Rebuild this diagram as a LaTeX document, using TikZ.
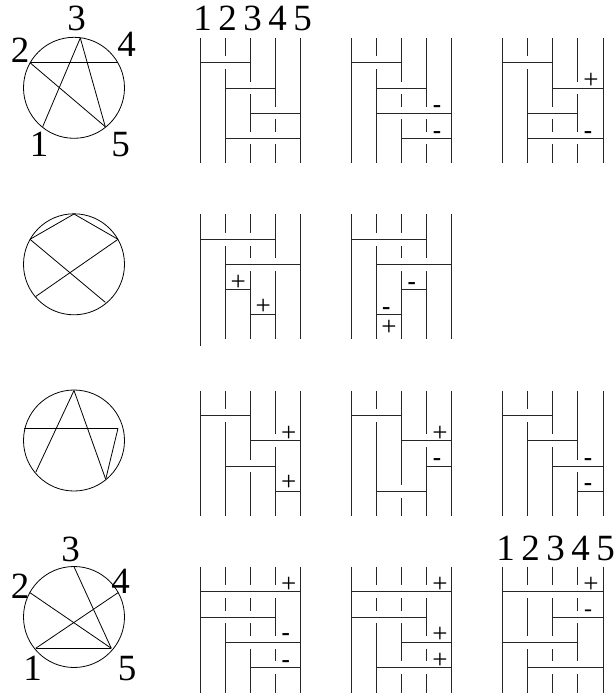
\documentclass[tikz,border=0pt]{standalone}
\usepackage{fontspec}
\setmainfont{Liberation Serif}

% five wires with their rungs: left x, top y, bottom y, list of wire/wire/y
\newcommand{\ladder}[4]{
    \foreach \w in {0,...,4}
        \draw[wire] (#1+\w*25.2,#2) -- (#1+\w*25.2,#3);
    \foreach \a/\b/\r in {#4}
        \draw[rung] (#1+\a*25.2-25.2,\r) -- (#1+\b*25.2-25.2,\r);
}

\begin{document}
\begin{tikzpicture}[
    x=1pt, y=-1pt,
    wire/.style={line width=0.9pt, draw=black!85},
    rung/.style={line width=0.9pt, draw=black!85, preaction={draw=white, line width=12.5pt, shorten <=2pt, shorten >=2pt}},
    chord/.style={line width=0.8pt},
    number/.style={font=\fontsize{37}{37}\selectfont, inner sep=0pt, anchor=base},
    plusmark/.style={font=\fontsize{27}{27}\selectfont, inner sep=0pt, anchor=base, yshift=-6.5pt},
    minusmark/.style={font=\bfseries\fontsize{25}{25}\selectfont, inner sep=0pt, anchor=base, yshift=-5.5pt},
    thinminus/.style={font=\fontsize{24}{24}\selectfont, inner sep=0pt, anchor=base, yshift=-5.3pt}
]
    \useasboundingbox (0,0) rectangle (614,695);

    % First row
    \draw[chord] (74,87.8) circle (50.5);
    \draw[chord] (80.3,38) -- (42.7,126.7);
    \draw[chord] (80.3,38) -- (105.3,126.7);
    \draw[chord] (30,62.7) -- (118.3,62.7);
    \draw[chord] (30,62.7) -- (105.3,126.7);
    \node[number] (topa) at (76.7,31) {3};
    \node[number] (topb) at (20,63) {2};
    \node[number] (topc) at (126.7,57) {4};
    \node[number] (topd) at (39,157) {1};
    \node[number] (tope) at (120.7,157) {5};
    \foreach \d in {1,...,5}
        \node[number] (heada\d) at (177.7+\d*25,31) {\d};

    \ladder{200}{38}{163.3}{1/3/62.7,2/4/88,3/5/113,2/5/138}
    \ladder{351}{38}{163.3}{1/3/62.7,2/4/88,2/5/113,3/5/138}
    \ladder{502.3}{38}{163.3}{1/3/62.7,3/5/88,2/4/113,2/5/138}
    \node[minusmark] (ma) at (437,106.7) {-};
    \node[minusmark] (mb) at (437,133) {-};
    \node[plusmark] (pa) at (591,81.7) {+};
    \node[minusmark] (mc) at (588,133) {-};

    % Second row
    \draw[chord] (74,264.3) circle (50.5);
    \draw[chord] (74,214) -- (30,239.3);
    \draw[chord] (74,214) -- (118,239.3);
    \draw[chord] (30,239.3) -- (105.3,302.3);
    \draw[chord] (118,239.3) -- (35.7,296.5);

    \ladder{200}{214}{339.3}{1/4/239.3,2/5/264.3,2/3/289.7,3/4/314.7}
    \draw[wire] (200,339.3) -- (200,346);
    \ladder{351}{214}{339.3}{1/4/239.3,2/5/264.3,3/4/289.7,2/3/314.7}
    \node[plusmark] (pb) at (238.3,284) {+};
    \node[plusmark] (pc) at (263.3,308.3) {+};
    \node[minusmark] (md) at (411.7,284.3) {-};
    \node[minusmark] (me) at (386.3,308.5) {-};
    \node[plusmark] (pd) at (389,328.5) {+};

    % Third row
    \draw[chord] (74,440.5) circle (50.5);
    \draw[chord] (74,390.5) -- (35.7,472.3);
    \draw[chord] (74,390.5) -- (105.7,479.3);
    \draw[chord] (24,428.3) -- (118,428.3);
    \draw[chord] (118,428.3) -- (105.7,479.3);

    \ladder{200}{390.7}{516}{1/3/415.7,3/5/440.7,2/4/466,4/5/491.3}
    \ladder{351}{390.7}{516}{1/3/415.7,3/5/440.7,4/5/466,2/4/491.3}
    \ladder{502.3}{390.7}{516}{1/3/415.7,2/4/440.7,3/5/466,4/5/491.3}
    \node[plusmark] (pe) at (288.7,435) {+};
    \node[plusmark] (pf) at (288.7,484.3) {+};
    \node[plusmark] (pg) at (440,435) {+};
    \node[minusmark] (mf) at (437,459.7) {-};
    \node[minusmark] (mg) at (588,459.7) {-};
    \node[minusmark] (mh) at (588,485) {-};

    % Fourth row
    \draw[chord] (74,617) circle (50.5);
    \draw[chord] (74,566.7) -- (111.3,648.3);
    \draw[chord] (30,592.7) -- (111.3,648.3);
    \draw[chord] (118,592.7) -- (35.7,648.3);
    \draw[chord] (35.7,648.3) -- (111.3,648.3);
    \node[number] (bota) at (70.7,561) {3};
    \node[number] (botb) at (20,598) {2};
    \node[number] (botc) at (120.7,593) {4};
    \node[number] (botd) at (32.7,680) {1};
    \node[number] (bote) at (127,680) {5};
    \foreach \d in {1,...,5}
        \node[number] (headb\d) at (480.7+\d*25,560.7) {\d};

    \ladder{200}{566.7}{692.7}{1/5/591.7,1/4/617,2/5/642.3,3/5/667.3}
    \ladder{351}{566.7}{692.7}{1/5/591.7,1/4/617,3/5/642.3,2/5/667.3}
    \ladder{502.3}{566.7}{692.7}{1/5/591.7,3/5/617,1/4/642.3,2/5/667.3}
    \node[plusmark] (ph) at (288.7,586) {+};
    \node[minusmark] (mi) at (285.7,635.3) {-};
    \node[minusmark] (mj) at (285.7,661.7) {-};
    \node[plusmark] (pi) at (440,586) {+};
    \node[plusmark] (pj) at (440,636) {+};
    \node[plusmark] (pk) at (440,661.5) {+};
    \node[plusmark] (pl) at (591,586) {+};
    \node[thinminus] (mk) at (588,610.7) {-};

\end{tikzpicture}
\end{document}
